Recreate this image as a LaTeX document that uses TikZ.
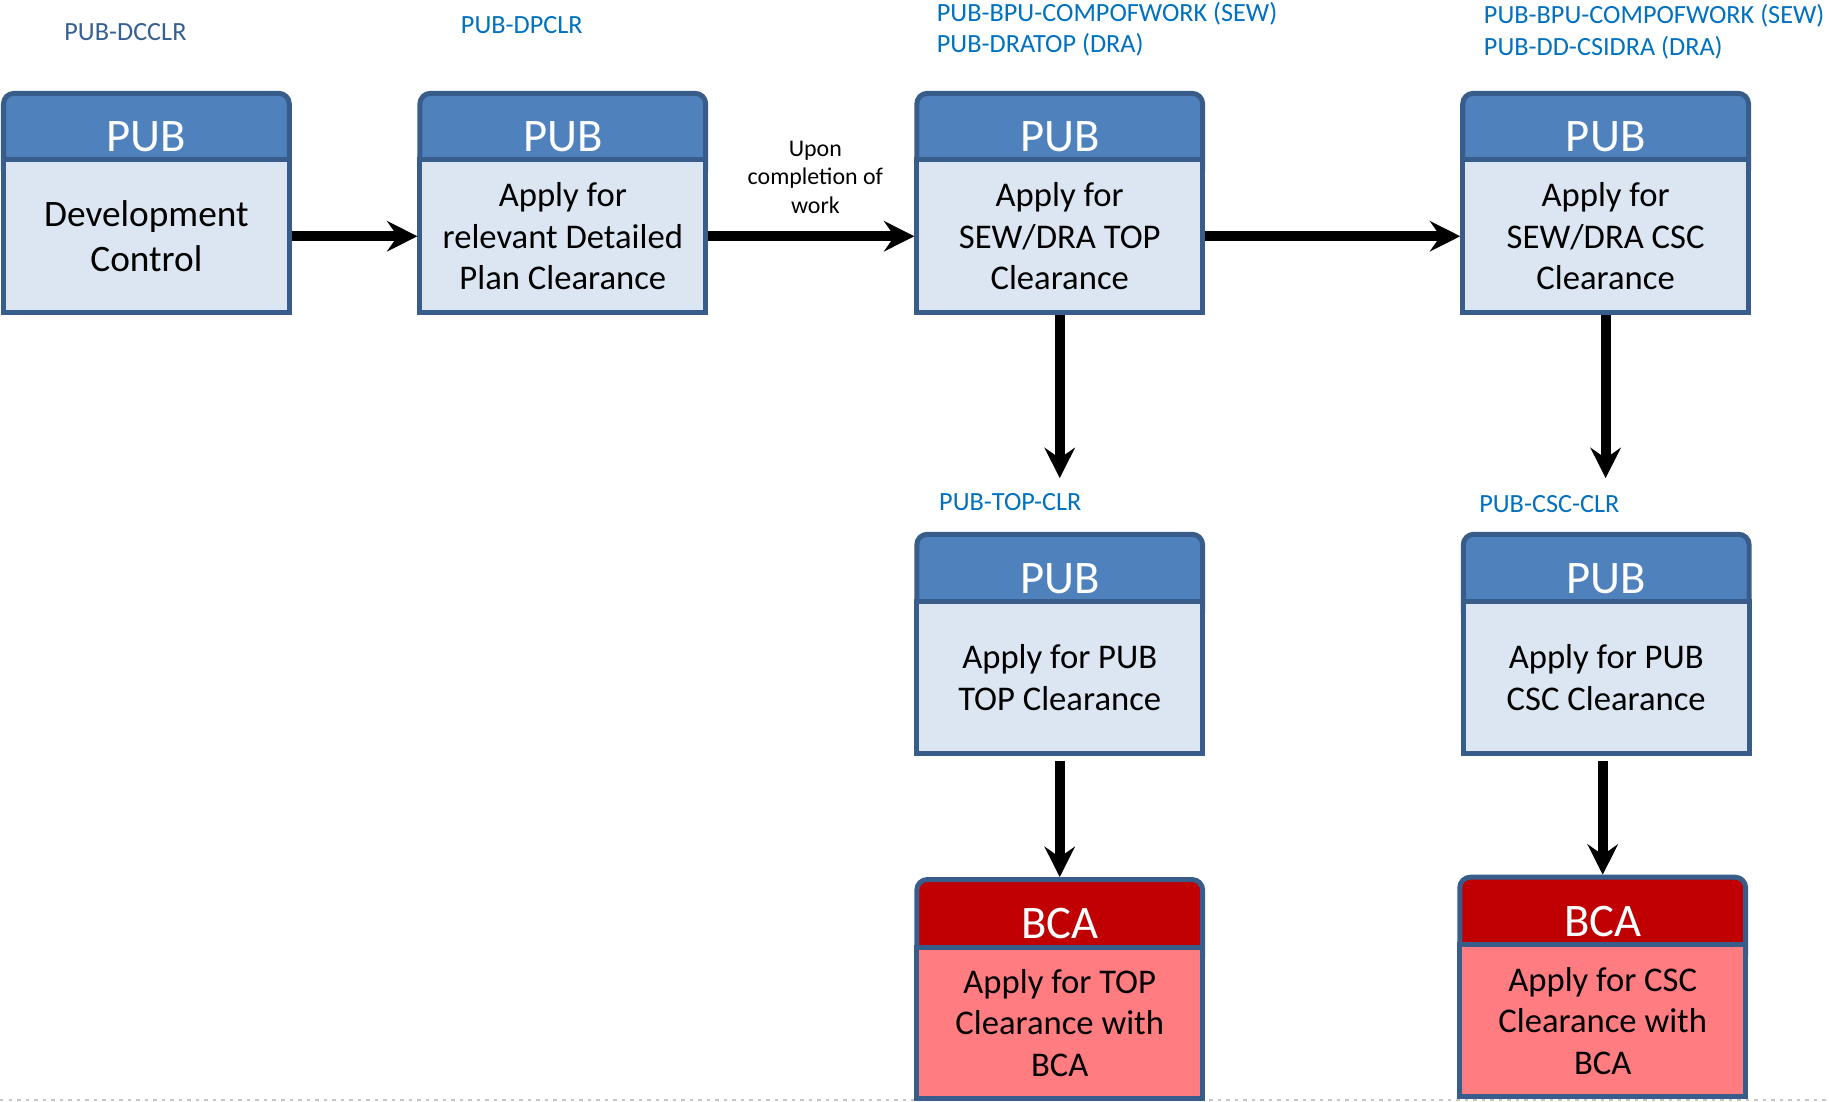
\documentclass[tikz,border=0pt]{standalone}
\usepackage{fontspec}
\setmainfont{Carlito}
\usetikzlibrary{arrows.meta}
\definecolor{pubtop}{HTML}{4F81BD}
\definecolor{pubfill}{HTML}{DCE6F2}
\definecolor{bcatop}{HTML}{C00000}
\definecolor{bcafill}{HTML}{FF7C80}
\definecolor{boxline}{HTML}{385D8A}
\definecolor{codeblue}{HTML}{0070C0}
\definecolor{codeslate}{HTML}{366092}
\tikzset{>={Stealth[length=26pt,width=26pt,inset=9pt]}}
\tikzset{
    box/.style={draw=boxline,line width=4.3pt,minimum width=245pt,inner sep=0pt,
        anchor=north,align=center},
    pubhead/.style={box,fill=pubtop,rounded corners=9pt,text=white,
        font=\fontsize{40}{40}\selectfont,text height=25pt,text depth=0pt},
    bighead/.style={pubhead},
    bcahead/.style={pubhead,fill=bcatop},
    pubbody/.style={box,fill=pubfill,font=\fontsize{29.7}{35.6}\selectfont},
    bigbody/.style={pubbody,font=\fontsize{32}{38}\selectfont},
    bcabody/.style={pubbody,fill=bcafill},
    code/.style={anchor=base west,inner sep=0pt,text=codeblue,
        font=\fontsize{22.5}{27}\selectfont,align=left},
    flow/.style={->,line width=8.6pt},
}
\newcommand\stage[8]{
    \node[#6head,minimum height=#3-#4+16] (#1-h) at (#2,#3) {#7};
    \node[#6body,minimum height=#4-#5] (#1) at (#2,#4+2) {#8};
}

\begin{document}
\begin{tikzpicture}[x=1pt,y=1pt]
    \useasboundingbox (0,0) rectangle (1568,943.9);
    \draw[gray!45,line width=1.3pt,dash pattern=on 3pt off 4.3pt] (0,0.8) -- (1568,0.8);
    \stage{dc}{125.5}{866}{807}{676}{big}{PUB}{Development\\Control}
    \stage{dp}{482.5}{866}{807}{676}{pub}{PUB}{Apply for\\relevant Detailed\\Plan Clearance}
    \stage{top}{908.5}{866}{807}{676}{pub}{PUB}{Apply for\\SEW/DRA TOP\\Clearance}
    \stage{csc}{1376.5}{866}{807}{676}{pub}{PUB}{Apply for\\SEW/DRA CSC\\Clearance}
    \stage{ptop}{908.5}{488}{428}{298}{pub}{PUB}{Apply for PUB\\TOP Clearance}
    \stage{pcsc}{1377}{488}{428}{298}{pub}{PUB}{Apply for PUB\\CSC Clearance}
    \stage{btop}{908.5}{192}{132}{2.5}{bca}{BCA}{Apply for TOP\\Clearance with\\BCA}
    \stage{bcsc}{1374}{194}{134}{4}{bca}{BCA}{Apply for CSC\\Clearance with\\BCA}
    \node[code,text=codeslate] (dcclr) at (55,909.5) {PUB-DCCLR};
    \node[code] (dpclr) at (395,915.5) {PUB-DPCLR};
    \node[code] (topcode) at (803,898.5) {PUB-BPU-COMPOFWORK (SEW)\\PUB-DRATOP (DRA)};
    \node[code] (csccode) at (1272,896.5) {PUB-BPU-COMPOFWORK (SEW)\\PUB-DD-CSIDRA (DRA)};
    \node[code] (topclr) at (805,506.5) {PUB-TOP-CLR};
    \node[code] (cscclr) at (1268,504.5) {PUB-CSC-CLR};
    \node[align=center,inner sep=0pt,font=\fontsize{20.5}{24.5}\selectfont] (upon)
        at (699,792) {Upon\\completion of\\work};
    \coordinate (topend) at (908.5,534);
    \coordinate (cscend) at (1376.5,534);
    \draw[flow] (dc) -- (dp);
    \draw[flow] (dp) -- (top);
    \draw[flow] (top) -- (csc);
    \draw[flow] (top.south) -- (topend);
    \draw[flow] (csc.south) -- (cscend);
    \draw[flow,shorten <=4pt] (ptop.south) -- (btop-h.north);
    \draw[flow,shorten <=4pt] (pcsc.south -| bcsc-h.north) -- (bcsc-h.north);
\end{tikzpicture}
\end{document}
